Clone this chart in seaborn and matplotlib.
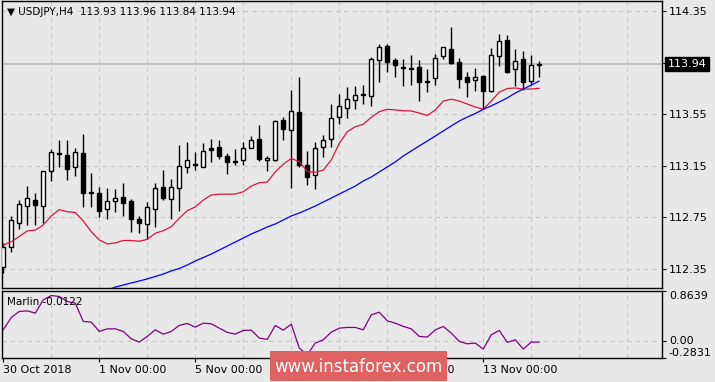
import numpy as np
import pandas as pd
import matplotlib
matplotlib.use("Agg")
import matplotlib.pyplot as plt
from matplotlib.patches import Rectangle
import seaborn as sns

# ---- data (USDJPY H4) ----
opens = [112.366, 112.523, 112.709, 112.841, 112.885, 112.838, 113.112, 113.244, 113.234, 113.138,
         113.247, 112.947, 112.937, 112.813, 112.880, 112.906, 112.880, 112.738, 112.697, 112.813,
         112.983, 112.895, 112.976, 113.138, 113.162, 113.143, 113.288, 113.293, 113.224, 113.190,
         113.193, 113.290, 113.355, 113.193, 113.193, 113.505, 113.428, 113.567, 113.156, 113.076,
         113.293, 113.355, 113.526, 113.600, 113.658, 113.707, 113.691, 113.970, 114.079, 113.970,
         113.914, 113.906, 113.914, 113.807, 113.828, 114.001, 114.053, 113.955, 113.836, 113.813,
         113.846, 113.728, 114.001, 114.125, 113.898, 113.976, 113.810, 113.930]
highs = [112.552, 112.761, 112.885, 112.993, 112.937, 113.110, 113.278, 113.350, 113.350, 113.286,
         113.397, 113.097, 112.988, 112.976, 112.968, 113.019, 112.890, 112.761, 112.872, 113.019,
         113.117, 113.045, 113.311, 113.334, 113.257, 113.325, 113.358, 113.350, 113.247, 113.278,
         113.334, 113.381, 113.466, 113.226, 113.505, 113.526, 113.738, 113.838, 113.265, 113.334,
         113.386, 113.629, 113.707, 113.758, 113.769, 113.776, 113.991, 114.092, 114.092, 113.983,
         113.980, 114.009, 113.970, 113.898, 114.017, 114.072, 114.224, 113.983, 113.879, 113.910,
         113.850, 114.061, 114.172, 114.162, 114.053, 114.042, 114.009, 113.960]
lows = [112.319, 112.484, 112.662, 112.691, 112.693, 112.704, 113.035, 113.138, 113.040, 113.071,
        112.833, 112.828, 112.755, 112.740, 112.794, 112.761, 112.639, 112.632, 112.580, 112.673,
        112.885, 112.735, 112.802, 113.092, 113.117, 113.140, 113.177, 113.205, 113.089, 113.154,
        113.159, 113.288, 113.190, 113.112, 113.190, 113.350, 112.980, 113.141, 113.001, 112.968,
        113.221, 113.298, 113.472, 113.518, 113.593, 113.629, 113.614, 113.800, 113.879, 113.841,
        113.771, 113.776, 113.655, 113.724, 113.774, 113.976, 113.943, 113.755, 113.686, 113.732,
        113.588, 113.720, 113.926, 113.870, 113.769, 113.738, 113.774, 113.840]
closes = [112.521, 112.730, 112.854, 112.898, 112.849, 113.107, 113.255, 113.250, 113.123, 113.255,
          112.942, 112.937, 112.802, 112.877, 112.898, 112.864, 112.740, 112.704, 112.828, 112.976,
          112.903, 112.983, 113.148, 113.193, 113.156, 113.262, 113.272, 113.226, 113.182, 113.180,
          113.286, 113.348, 113.203, 113.208, 113.497, 113.433, 113.575, 113.156, 113.066, 113.286,
          113.348, 113.518, 113.616, 113.665, 113.697, 113.701, 113.976, 114.069, 113.952, 113.929,
          113.908, 113.901, 113.802, 113.800, 113.983, 114.069, 113.945, 113.825, 113.802, 113.836,
          113.732, 114.007, 114.115, 113.879, 113.965, 113.802, 113.929, 113.940]

# fast moving average (red)
ma_fast = [112.536, 112.562, 112.602, 112.645, 112.652, 112.691, 112.761, 112.810, 112.794, 112.788,
           112.722, 112.639, 112.575, 112.544, 112.552, 112.571, 112.571, 112.565, 112.580, 112.627,
           112.647, 112.678, 112.743, 112.802, 112.831, 112.885, 112.924, 112.930, 112.930, 112.931,
           112.949, 112.993, 113.019, 113.024, 113.102, 113.162, 113.207, 113.182, 113.104, 113.100,
           113.117, 113.195, 113.324, 113.414, 113.453, 113.472, 113.526, 113.569, 113.588, 113.583,
           113.577, 113.575, 113.559, 113.540, 113.583, 113.652, 113.666, 113.652, 113.629, 113.606,
           113.588, 113.652, 113.721, 113.749, 113.753, 113.745, 113.745, 113.751]

# slow moving average (blue), starts below the visible range
ma_slow = [np.nan] * 13 + [
           112.187, 112.210, 112.226, 112.242, 112.257, 112.273, 112.292, 112.311, 112.335, 112.354,
           112.381, 112.412, 112.439, 112.466, 112.497, 112.528, 112.559, 112.590, 112.621, 112.648,
           112.676, 112.699, 112.730, 112.761, 112.784, 112.811, 112.838, 112.869, 112.900, 112.931,
           112.962, 112.993, 113.032, 113.063, 113.102, 113.141, 113.180, 113.226, 113.265, 113.304,
           113.342, 113.381, 113.420, 113.459, 113.497, 113.528, 113.555, 113.588, 113.614, 113.645,
           113.676, 113.714, 113.745, 113.776, 113.807]

marlin = [0.197, 0.408, 0.510, 0.520, 0.481, 0.707, 0.782, 0.765, 0.680, 0.651,
          0.340, 0.328, 0.170, 0.214, 0.214, 0.170, 0.044, -0.012, 0.085, 0.197,
          0.124, 0.170, 0.272, 0.306, 0.243, 0.311, 0.299, 0.226, 0.153, 0.124,
          0.187, 0.192, 0.056, 0.034, 0.272, 0.192, 0.294, -0.114, -0.228, -0.029,
          0.027, 0.158, 0.226, 0.238, 0.238, 0.197, 0.452, 0.498, 0.350, 0.311,
          0.255, 0.214, 0.085, 0.073, 0.197, 0.255, 0.141, 0.000, -0.041, -0.029,
          -0.131, 0.112, 0.187, -0.017, 0.027, -0.131, -0.012, -0.0122]

price_ticks = [112.35, 112.75, 113.15, 113.55, 113.95, 114.35]
price_labels = ["112.35", "112.75", "113.15", "113.55", "", "114.35"]
date_ticks = [0, 12, 24, 36, 48, 60]
date_labels = ["30 Oct 2018", "1 Nov 00:00", "5 Nov 00:00", "7 Nov 00:00", "9 Nov 00:00", "13 Nov 00:00"]

df = pd.DataFrame({"open": opens, "high": highs, "low": lows, "close": closes,
                   "ma_fast": ma_fast, "ma_slow": ma_slow, "marlin": marlin})
df["idx"] = np.arange(len(df))

# ---- style ----
bg = "#e8e8e8"
sns.set_theme(style="white")
plt.rcParams["font.family"] = ["DejaVu Sans"]
plt.rcParams["axes.facecolor"] = bg
plt.rcParams["figure.facecolor"] = bg

fig = plt.figure(figsize=(7.15, 3.82), dpi=100)
ax = fig.add_axes([2 / 715, 1 - 288 / 382, 660 / 715, 287 / 382])
ax2 = fig.add_axes([2 / 715, 1 - 358 / 382, 660 / 715, 67.3 / 382])

grid_kw = dict(color="#c4c4c4", linewidth=0.75, linestyle=(0, (4, 4)), zorder=0)

# ---- main price panel ----
for a in (ax, ax2):
    for i in range(6, 83, 6):
        a.axvline(i, **grid_kw)
for p in price_ticks:
    ax.axhline(p, **grid_kw)

# bid line
ax.axhline(closes[-1], color="#c0c0c0", linewidth=1.4, zorder=1)

# candles
bull = df["close"] >= df["open"]
ax.vlines(df["idx"], df["low"], df["high"], color="black", linewidth=1.0, zorder=2)
body_h = (df["close"] - df["open"]).abs().clip(lower=0.006)
body_b = df[["open", "close"]].min(axis=1)
ax.bar(df["idx"][bull], body_h[bull], bottom=body_b[bull], width=0.5,
       color="white", edgecolor="black", linewidth=1.0, zorder=3)
ax.bar(df["idx"][~bull], body_h[~bull], bottom=body_b[~bull], width=0.5,
       color="black", edgecolor="black", linewidth=1.0, zorder=3)

sns.lineplot(data=df, x="idx", y="ma_fast", ax=ax, color="#dc143c", linewidth=0.9, zorder=4)
sns.lineplot(data=df, x="idx", y="ma_slow", ax=ax, color="#0000ff", linewidth=0.9, zorder=4)

ax.set_xlim(-0.16, 82.34)
ax.set_ylim(112.2027, 114.4275)
ax.set_xticks([])
ax.set_yticks(price_ticks, labels=price_labels)
ax.yaxis.tick_right()
ax.tick_params(axis="y", right=True, left=False, length=3, width=0.8, pad=2,
               labelsize=8, colors="black", direction="out")
ax.set_xlabel("")
ax.set_ylabel("")
for s in ax.spines.values():
    s.set_color("black")
    s.set_linewidth(1.0)

ax.text(0.007, 0.962, "\u25bc USDJPY,H4  113.93 113.96 113.84 113.94",
        transform=ax.transAxes, va="center", ha="left", fontsize=7.5, color="black")

ax.annotate("113.94", xy=(1.0, closes[-1]), xycoords=("axes fraction", "data"),
            xytext=(4, 0), textcoords="offset points", ha="left", va="center",
            fontsize=8, color="white", annotation_clip=False, zorder=10,
            bbox=dict(boxstyle="square,pad=0.2", fc="black", ec="black"))

# ---- Marlin panel ----
ax2.axhline(0, **grid_kw)
sns.lineplot(data=df, x="idx", y="marlin", ax=ax2, color="#800080", linewidth=0.9, zorder=3)
ax2.set_xlim(-0.16, 82.34)
ax2.set_ylim(-0.2831, 0.8639)
ax2.set_yticks([-0.2831, 0.0, 0.8639], labels=["-0.2831", "0.00", "0.8639"])
ax2.yaxis.tick_right()
ax2.tick_params(axis="y", right=True, left=False, length=3, width=0.8, pad=2,
                labelsize=8, colors="black")
for lab, va in zip(ax2.get_yticklabels(), ["bottom", "center", "top"]):
    lab.set_va(va)
ax2.set_xticks(date_ticks, labels=date_labels)
ax2.tick_params(axis="x", bottom=True, length=3, width=0.8, pad=2, labelsize=8, colors="black")
for lab in ax2.get_xticklabels():
    lab.set_ha("left")
ax2.set_xlabel("")
ax2.set_ylabel("")
for s in ax2.spines.values():
    s.set_color("black")
    s.set_linewidth(1.0)

ax2.text(0.007, 0.832, "Marlin -0.0122", transform=ax2.transAxes,
         va="center", ha="left", fontsize=7.5, color="black")

# ---- watermark ----
fig.patches.append(Rectangle((270 / 715, 1 - 381 / 382), 177 / 715, 30 / 382,
                             transform=fig.transFigure, facecolor="#de6262",
                             edgecolor="none", zorder=20))
fig.text(358 / 715, 1 - 367 / 382, "www.instaforex.com", color="white",
         fontsize=12, ha="center", va="center", zorder=21)

fig.savefig("out.png", dpi=100, facecolor=bg)
